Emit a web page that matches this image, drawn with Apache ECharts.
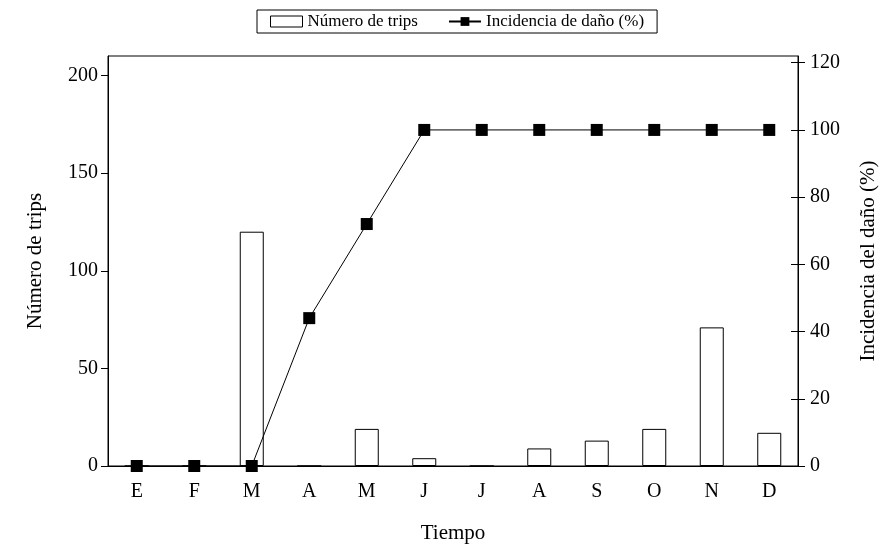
<!DOCTYPE html>
<html>
<head>
<meta charset="utf-8">
<script src="https://cdn.jsdelivr.net/npm/echarts@6/dist/echarts.min.js"></script>
<style>html,body{margin:0;padding:0;background:#fff;}#c{width:893px;height:550px;}</style>
</head>
<body>
<div id="c"></div>
<script>
const months = ['E','F','M','A','M','J','J','A','S','O','N','D'];
const trips = [0, 0, 120, 0, 19, 4, 0, 9, 13, 19, 71, 17];
const incidencia = [0, 0, 0, 44, 72, 100, 100, 100, 100, 100, 100, 100];
const leftTicks = [0, 50, 100, 150, 200];
const rightTicks = [0, 20, 40, 60, 80, 100, 120];

const FONT = '"Liberation Serif", "DejaVu Serif", serif';
const chart = echarts.init(document.getElementById('c'), null, {renderer: 'canvas'});
chart.setOption({
  animation: false,
  backgroundColor: '#fff',
  textStyle: {fontFamily: FONT, color: '#000'},
  legend: {
    left: 257, top: 10,
    padding: [3, 13],
    borderColor: '#000', borderWidth: 1,
    itemGap: 30, itemWidth: 32, itemHeight: 11,
    textStyle: {fontFamily: FONT, fontSize: 17, color: '#000'},
    data: [
      {name: 'Número de trips', icon: 'rect', itemStyle: {color: '#fff', borderColor: '#000', borderWidth: 1}},
      {name: 'Incidencia de daño (%)'}
    ]
  },
  grid: {left: 108, right: 95, top: 56, bottom: 84, show: true, borderColor: '#000', borderWidth: 1},
  xAxis: {
    type: 'category', data: months, boundaryGap: true,
    axisLine: {lineStyle: {color: '#000', width: 1}},
    axisTick: {show: false},
    axisLabel: {fontSize: 20, color: '#000', fontFamily: FONT, margin: 16},
    name: 'Tiempo', nameLocation: 'middle', nameGap: 57,
    nameTextStyle: {fontSize: 21, color: '#000', fontFamily: FONT}
  },
  yAxis: [
    {
      type: 'value', min: 0, max: 210, position: 'left',
      splitLine: {show: false},
      axisLine: {show: true, lineStyle: {color: '#000'}},
      axisTick: {show: true, length: 7, lineStyle: {color: '#000'}, customValues: leftTicks},
      axisLabel: {fontSize: 20, color: '#000', fontFamily: FONT, margin: 10, customValues: leftTicks},
      name: 'Número de trips', nameLocation: 'middle', nameGap: 62, nameRotate: 90,
      nameTextStyle: {fontSize: 21, color: '#000', fontFamily: FONT}
    },
    {
      type: 'value', min: 0, max: 122, position: 'right',
      splitLine: {show: false},
      axisLine: {show: true, lineStyle: {color: '#000'}},
      axisTick: {show: true, length: 7, lineStyle: {color: '#000'}, customValues: rightTicks},
      axisLabel: {fontSize: 20, color: '#000', fontFamily: FONT, margin: 12, customValues: rightTicks},
      name: 'Incidencia del daño (%)', nameLocation: 'middle', nameGap: 60, nameRotate: 90,
      nameTextStyle: {fontSize: 21, color: '#000', fontFamily: FONT}
    },
    {
      type: 'value', min: 0, max: 122, position: 'right',
      splitLine: {show: false},
      axisLine: {show: false},
      axisTick: {show: true, inside: true, length: 7, lineStyle: {color: '#000'}, customValues: rightTicks},
      axisLabel: {show: false}
    }
  ],
  series: [
    {
      name: 'Número de trips', type: 'bar', yAxisIndex: 0, data: trips, barWidth: 24,
      itemStyle: {color: '#fff', borderColor: '#000', borderWidth: 1}
    },
    {
      name: 'Incidencia de daño (%)', type: 'line', yAxisIndex: 1, data: incidencia,
      symbol: 'rect', symbolSize: 12,
      lineStyle: {color: '#000', width: 1},
      itemStyle: {color: '#000'}
    },
    {
      type: 'line', yAxisIndex: 2, data: [], silent: true
    }
  ]
});
</script>
</body>
</html>
